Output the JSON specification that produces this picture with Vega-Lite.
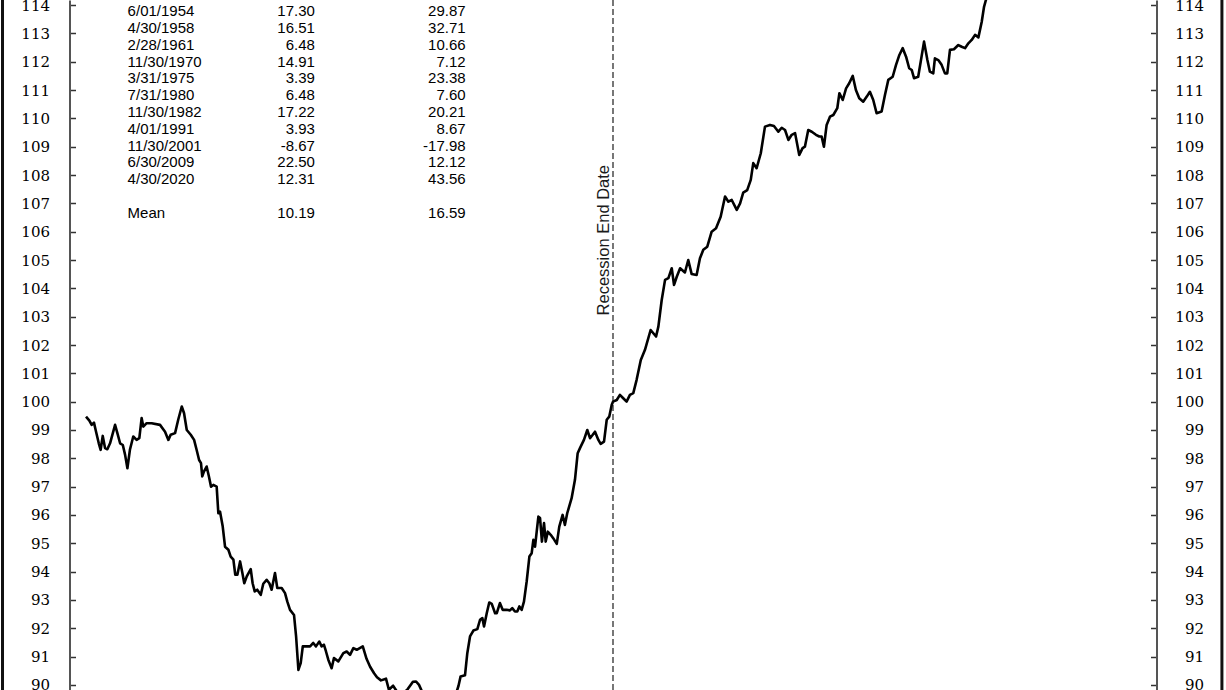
{
  "$schema": "https://vega.github.io/schema/vega-lite/v6.json",
  "width": 1226,
  "height": 690,
  "padding": 0,
  "autosize": {"type": "none"},
  "background": "white",
  "config": {"view": {"stroke": null}},
  "datasets": {
    "series": [
      {"d":-252.1,"v":99.47},{"d":-250.5,"v":99.33},{"d":-249.4,"v":99.18},{"d":-248.3,"v":99.26},{"d":-247.3,"v":98.94},{"d":-246.0,"v":98.53},{"d":-245.1,"v":98.30},{"d":-244.1,"v":98.79},{"d":-243.0,"v":98.36},{"d":-241.9,"v":98.32},{"d":-240.6,"v":98.53},{"d":-238.2,"v":99.18},{"d":-237.1,"v":98.89},{"d":-235.8,"v":98.53},{"d":-234.5,"v":98.47},{"d":-233.4,"v":98.12},{"d":-232.3,"v":97.65},{"d":-231.1,"v":98.30},{"d":-229.5,"v":98.77},{"d":-227.9,"v":98.65},{"d":-226.6,"v":98.71},{"d":-225.5,"v":99.42},{"d":-224.7,"v":99.12},{"d":-223.1,"v":99.24},{"d":-220.7,"v":99.24},{"d":-216.7,"v":99.18},{"d":-214.3,"v":98.94},{"d":-212.7,"v":98.65},{"d":-211.6,"v":98.83},{"d":-209.5,"v":98.89},{"d":-208.0,"v":99.36},{"d":-206.3,"v":99.83},{"d":-205.2,"v":99.59},{"d":-203.9,"v":99.00},{"d":-202.0,"v":98.83},{"d":-200.4,"v":98.65},{"d":-199.2,"v":98.30},{"d":-198.0,"v":97.94},{"d":-197.1,"v":97.83},{"d":-196.5,"v":97.36},{"d":-195.7,"v":97.53},{"d":-194.4,"v":97.71},{"d":-193.3,"v":97.36},{"d":-192.3,"v":97.00},{"d":-191.2,"v":97.06},{"d":-189.6,"v":97.00},{"d":-188.8,"v":96.06},{"d":-188.0,"v":96.12},{"d":-186.7,"v":95.59},{"d":-185.6,"v":94.88},{"d":-184.0,"v":94.77},{"d":-182.9,"v":94.53},{"d":-181.6,"v":94.42},{"d":-180.7,"v":93.89},{"d":-179.7,"v":93.89},{"d":-178.4,"v":94.36},{"d":-177.3,"v":93.95},{"d":-176.4,"v":93.59},{"d":-175.2,"v":93.83},{"d":-173.3,"v":94.09},{"d":-172.4,"v":93.59},{"d":-171.4,"v":93.30},{"d":-170.2,"v":93.36},{"d":-168.5,"v":93.18},{"d":-167.3,"v":93.57},{"d":-165.7,"v":93.71},{"d":-164.4,"v":93.59},{"d":-163.3,"v":93.36},{"d":-161.7,"v":93.95},{"d":-160.6,"v":93.42},{"d":-158.5,"v":93.42},{"d":-156.9,"v":93.24},{"d":-155.8,"v":92.94},{"d":-154.5,"v":92.65},{"d":-152.6,"v":92.47},{"d":-151.6,"v":91.71},{"d":-150.5,"v":90.53},{"d":-149.4,"v":90.77},{"d":-148.4,"v":91.36},{"d":-147.3,"v":91.36},{"d":-144.9,"v":91.36},{"d":-143.4,"v":91.48},{"d":-142.1,"v":91.36},{"d":-140.5,"v":91.53},{"d":-139.4,"v":91.36},{"d":-138.3,"v":91.42},{"d":-137.3,"v":91.18},{"d":-136.2,"v":90.89},{"d":-134.6,"v":90.59},{"d":-133.5,"v":90.95},{"d":-131.4,"v":90.83},{"d":-129.0,"v":91.12},{"d":-127.4,"v":91.18},{"d":-125.8,"v":91.06},{"d":-124.2,"v":91.30},{"d":-122.6,"v":91.24},{"d":-119.7,"v":91.36},{"d":-117.9,"v":90.92},{"d":-116.2,"v":90.64},{"d":-114.3,"v":90.41},{"d":-112.9,"v":90.27},{"d":-111.0,"v":90.16},{"d":-108.6,"v":90.22},{"d":-107.2,"v":89.83},{"d":-105.2,"v":89.97},{"d":-103.3,"v":89.76},{"d":-100.9,"v":89.65},{"d":-98.1,"v":89.86},{"d":-95.7,"v":90.11},{"d":-94.2,"v":90.12},{"d":-92.8,"v":90.00},{"d":-90.9,"v":89.69},{"d":-87.5,"v":89.47},{"d":-82.8,"v":89.40},{"d":-78.0,"v":89.54},{"d":-75.1,"v":89.69},{"d":-73.9,"v":89.97},{"d":-72.9,"v":90.30},{"d":-70.8,"v":90.34},{"d":-69.7,"v":91.12},{"d":-68.4,"v":91.71},{"d":-66.8,"v":91.92},{"d":-64.9,"v":91.97},{"d":-63.6,"v":92.30},{"d":-62.5,"v":92.36},{"d":-61.7,"v":92.06},{"d":-60.4,"v":92.53},{"d":-59.2,"v":92.91},{"d":-58.0,"v":92.86},{"d":-56.4,"v":92.53},{"d":-55.6,"v":92.53},{"d":-54.1,"v":92.89},{"d":-52.8,"v":92.65},{"d":-50.9,"v":92.65},{"d":-49.3,"v":92.63},{"d":-48.2,"v":92.71},{"d":-46.9,"v":92.59},{"d":-45.8,"v":92.59},{"d":-44.8,"v":92.77},{"d":-43.7,"v":92.65},{"d":-42.6,"v":92.94},{"d":-41.3,"v":93.65},{"d":-40.0,"v":94.53},{"d":-38.9,"v":94.65},{"d":-38.1,"v":95.12},{"d":-37.3,"v":94.88},{"d":-36.5,"v":95.41},{"d":-35.7,"v":95.94},{"d":-34.9,"v":95.89},{"d":-34.0,"v":95.06},{"d":-33.0,"v":95.71},{"d":-32.2,"v":95.06},{"d":-31.2,"v":95.41},{"d":-29.8,"v":95.30},{"d":-28.6,"v":95.18},{"d":-26.9,"v":94.98},{"d":-25.7,"v":95.59},{"d":-24.1,"v":96.00},{"d":-23.0,"v":95.65},{"d":-21.9,"v":96.06},{"d":-19.8,"v":96.59},{"d":-18.2,"v":97.24},{"d":-16.9,"v":98.18},{"d":-15.8,"v":98.36},{"d":-13.9,"v":98.65},{"d":-12.3,"v":99.00},{"d":-11.0,"v":98.71},{"d":-9.7,"v":98.83},{"d":-8.6,"v":98.94},{"d":-7.0,"v":98.65},{"d":-5.9,"v":98.51},{"d":-4.3,"v":98.59},{"d":-3.0,"v":99.36},{"d":-1.8,"v":99.47},{"d":-0.6,"v":99.89},{"d":0,"v":100.0},{"d":1.8,"v":100.06},{"d":3.3,"v":100.24},{"d":4.9,"v":100.12},{"d":6.5,"v":100.00},{"d":8.1,"v":100.24},{"d":9.7,"v":100.30},{"d":11.3,"v":100.77},{"d":13.3,"v":101.47},{"d":15.3,"v":101.83},{"d":18.0,"v":102.53},{"d":20.6,"v":102.30},{"d":21.7,"v":102.65},{"d":23.3,"v":103.59},{"d":24.9,"v":104.30},{"d":26.5,"v":104.36},{"d":28.1,"v":104.71},{"d":29.2,"v":104.12},{"d":30.5,"v":104.41},{"d":32.1,"v":104.71},{"d":34.4,"v":104.56},{"d":36.0,"v":105.00},{"d":37.6,"v":104.51},{"d":40.0,"v":104.47},{"d":41.6,"v":105.06},{"d":43.2,"v":105.36},{"d":45.1,"v":105.47},{"d":47.2,"v":106.00},{"d":49.3,"v":106.12},{"d":51.5,"v":106.53},{"d":53.6,"v":107.24},{"d":55.2,"v":107.06},{"d":56.8,"v":107.12},{"d":59.2,"v":106.77},{"d":60.8,"v":107.00},{"d":62.3,"v":107.38},{"d":64.2,"v":107.47},{"d":65.9,"v":107.83},{"d":67.1,"v":108.42},{"d":68.7,"v":108.24},{"d":70.7,"v":108.77},{"d":72.7,"v":109.71},{"d":75.1,"v":109.77},{"d":77.0,"v":109.73},{"d":79.1,"v":109.53},{"d":80.7,"v":109.67},{"d":82.3,"v":109.59},{"d":83.9,"v":109.24},{"d":85.5,"v":109.42},{"d":87.1,"v":109.48},{"d":89.1,"v":108.71},{"d":90.7,"v":108.95},{"d":91.8,"v":109.00},{"d":93.4,"v":109.59},{"d":95.1,"v":109.53},{"d":97.1,"v":109.42},{"d":98.7,"v":109.36},{"d":99.8,"v":109.36},{"d":100.9,"v":109.00},{"d":102.2,"v":109.77},{"d":103.8,"v":110.06},{"d":105.4,"v":110.12},{"d":107.3,"v":110.36},{"d":108.3,"v":110.89},{"d":109.9,"v":110.65},{"d":111.5,"v":111.06},{"d":113.0,"v":111.24},{"d":114.7,"v":111.50},{"d":116.2,"v":111.00},{"d":117.8,"v":110.71},{"d":119.7,"v":110.59},{"d":121.4,"v":110.77},{"d":122.9,"v":110.94},{"d":124.5,"v":110.65},{"d":126.1,"v":110.18},{"d":128.5,"v":110.24},{"d":130.1,"v":110.83},{"d":131.7,"v":111.36},{"d":133.8,"v":111.47},{"d":135.4,"v":111.89},{"d":137.0,"v":112.24},{"d":138.6,"v":112.48},{"d":140.2,"v":112.18},{"d":141.7,"v":111.77},{"d":142.9,"v":111.71},{"d":144.0,"v":111.42},{"d":146.0,"v":111.47},{"d":147.2,"v":112.00},{"d":148.8,"v":112.71},{"d":150.4,"v":112.06},{"d":151.6,"v":111.65},{"d":153.2,"v":111.59},{"d":154.0,"v":112.12},{"d":155.6,"v":112.06},{"d":157.2,"v":111.89},{"d":158.8,"v":111.59},{"d":159.9,"v":111.59},{"d":161.2,"v":112.42},{"d":163.1,"v":112.44},{"d":165.2,"v":112.59},{"d":166.8,"v":112.53},{"d":168.4,"v":112.48},{"d":170.0,"v":112.65},{"d":171.6,"v":112.77},{"d":173.2,"v":112.95},{"d":174.8,"v":112.86},{"d":176.4,"v":113.41},{"d":177.5,"v":113.94},{"d":178.4,"v":114.18},{"d":182,"v":114.9},{"d":190,"v":115.3},{"d":200,"v":115.6},{"d":215,"v":115.9},{"d":230,"v":116.2},{"d":252,"v":116.59}
    ],
    "table": [
      {"row":0,"date":"6/01/1954","a":"17.30","b":"29.87"},
      {"row":1,"date":"4/30/1958","a":"16.51","b":"32.71"},
      {"row":2,"date":"2/28/1961","a":"6.48","b":"10.66"},
      {"row":3,"date":"11/30/1970","a":"14.91","b":"7.12"},
      {"row":4,"date":"3/31/1975","a":"3.39","b":"23.38"},
      {"row":5,"date":"7/31/1980","a":"6.48","b":"7.60"},
      {"row":6,"date":"11/30/1982","a":"17.22","b":"20.21"},
      {"row":7,"date":"4/01/1991","a":"3.93","b":"8.67"},
      {"row":8,"date":"11/30/2001","a":"-8.67","b":"-17.98"},
      {"row":9,"date":"6/30/2009","a":"22.50","b":"12.12"},
      {"row":10,"date":"4/30/2020","a":"12.31","b":"43.56"},
      {"row":12,"date":"Mean","a":"10.19","b":"16.59"}
    ],
    "frame": [{"f":-292.05},{"f":291.3}],
    "marker": [{"d":0,"label":"Recession End Date","v":105.7}]
  },
  "resolve": {"scale": {"y": "independent"}, "axis": {"y": "independent"}},
  "layer": [
    {
      "data": {"name": "frame"},
      "mark": {"type": "rule", "color": "#111", "strokeWidth": 3},
      "encoding": {
        "x": {"field": "f", "type": "quantitative", "scale": {"domain": [-293.25, 293.25]}, "axis": null}
      }
    },
    {
      "data": {"name": "marker"},
      "mark": {"type": "rule", "color": "#555", "strokeWidth": 1.6, "strokeDash": [6, 3]},
      "encoding": {
        "x": {"field": "d", "type": "quantitative", "scale": {"domain": [-293.25, 293.25]}, "axis": null}
      }
    },
    {
      "data": {"name": "marker"},
      "mark": {"type": "text", "angle": 270, "align": "center", "baseline": "bottom", "font": "Liberation Sans", "fontSize": 16.5, "color": "#1a1a1a", "dy": -1},
      "encoding": {
        "x": {"field": "d", "type": "quantitative", "scale": {"domain": [-293.25, 293.25]}, "axis": null},
        "y": {"field": "v", "type": "quantitative", "scale": {"domain": [89.82, 114.18]}, "axis": null},
        "text": {"field": "label"}
      }
    },
    {
      "data": {"name": "series"},
      "mark": {"type": "line", "color": "#000", "strokeWidth": 2.6, "strokeJoin": "round", "clip": true},
      "encoding": {
        "x": {"field": "d", "type": "quantitative", "scale": {"domain": [-293.25, 293.25]}, "axis": null},
        "y": {"field": "v", "type": "quantitative", "scale": {"domain": [89.82, 114.18], "zero": false, "nice": false},
          "axis": {"orient": "left", "offset": -69.5, "title": null, "grid": false,
            "values": [90,91,92,93,94,95,96,97,98,99,100,101,102,103,104,105,106,107,108,109,110,111,112,113,114],
            "tickSize": -6, "tickWidth": 1.5, "tickColor": "#333", "domainColor": "#555", "domainWidth": 2,
            "labelPadding": 26, "labelAlign": "right", "labelBaseline": "middle", "labelFont": "DejaVu Serif", "labelFontSize": 15, "labelColor": "#000", "labelOverlap": false, "labelBound": false, "labelFlush": false}}
      }
    },
    {
      "data": {"name": "series"},
      "mark": {"type": "line", "color": "#000", "strokeWidth": 2.6, "strokeOpacity": 0, "clip": true},
      "encoding": {
        "x": {"field": "d", "type": "quantitative", "scale": {"domain": [-293.25, 293.25]}, "axis": null},
        "y": {"field": "v", "type": "quantitative", "scale": {"domain": [89.82, 114.18], "zero": false, "nice": false},
          "axis": {"orient": "right", "offset": -69.5, "title": null, "grid": false,
            "values": [90,91,92,93,94,95,96,97,98,99,100,101,102,103,104,105,106,107,108,109,110,111,112,113,114],
            "tickSize": -6, "tickWidth": 1.5, "tickColor": "#333", "domainColor": "#555", "domainWidth": 2,
            "labelPadding": 53, "labelAlign": "right", "labelBaseline": "middle", "labelFont": "DejaVu Serif", "labelFontSize": 15, "labelColor": "#000", "labelOverlap": false, "labelBound": false, "labelFlush": false}}
      }
    },
    {
      "data": {"name": "table"},
      "mark": {"type": "text", "align": "left", "baseline": "middle", "font": "Liberation Sans", "fontSize": 15, "color": "#000"},
      "encoding": {
        "x": {"datum": -232.2, "type": "quantitative", "scale": {"domain": [-293.25, 293.25]}, "axis": null},
        "y": {"field": "row", "type": "quantitative", "scale": {"domain": [-0.6726, 40.4], "reverse": true, "zero": false, "nice": false}, "axis": null},
        "text": {"field": "date"}
      }
    },
    {
      "data": {"name": "table"},
      "mark": {"type": "text", "align": "right", "baseline": "middle", "font": "Liberation Sans", "fontSize": 15, "color": "#000"},
      "encoding": {
        "x": {"datum": -142.6, "type": "quantitative", "scale": {"domain": [-293.25, 293.25]}, "axis": null},
        "y": {"field": "row", "type": "quantitative", "scale": {"domain": [-0.6726, 40.4], "reverse": true, "zero": false, "nice": false}, "axis": null},
        "text": {"field": "a"}
      }
    },
    {
      "data": {"name": "table"},
      "mark": {"type": "text", "align": "right", "baseline": "middle", "font": "Liberation Sans", "fontSize": 15, "color": "#000"},
      "encoding": {
        "x": {"datum": -70.5, "type": "quantitative", "scale": {"domain": [-293.25, 293.25]}, "axis": null},
        "y": {"field": "row", "type": "quantitative", "scale": {"domain": [-0.6726, 40.4], "reverse": true, "zero": false, "nice": false}, "axis": null},
        "text": {"field": "b"}
      }
    }
  ]
}
